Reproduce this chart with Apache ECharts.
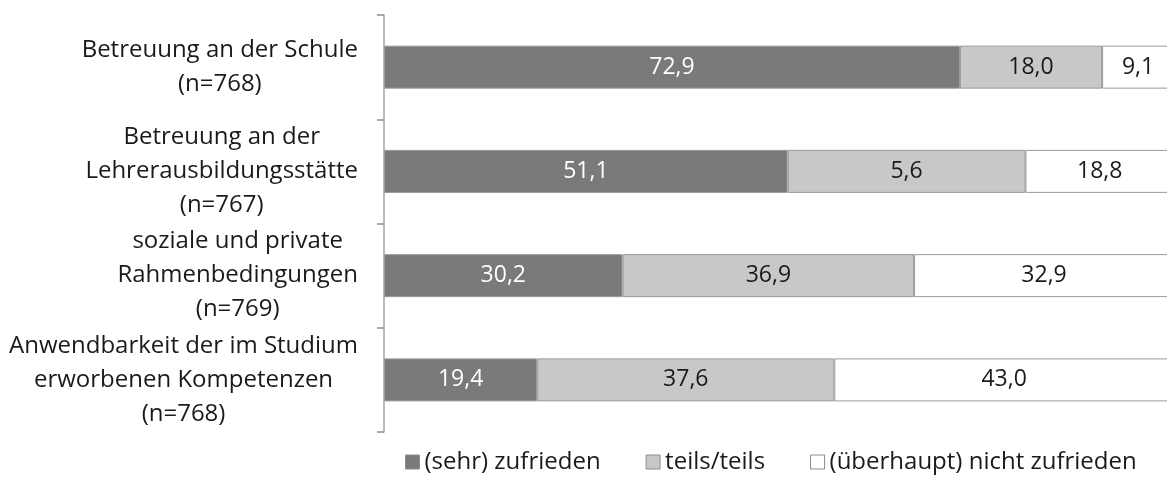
<!DOCTYPE html>
<html><head><meta charset="utf-8">
<script src="https://cdn.jsdelivr.net/npm/echarts@6/dist/echarts.min.js"></script>
<style>html,body{margin:0;padding:0;background:#fff;overflow:hidden}#c{width:1175px;height:489px}</style>
</head><body><div id="c"></div>
<script>
const categories = [
  "Betreuung an der Schule\n(n=768)",
  "Betreuung an der\nLehrerausbildungsstätte\n(n=767)",
  "soziale und private\nRahmenbedingungen\n(n=769)",
  "Anwendbarkeit der im Studium\nerworbenen Kompetenzen\n(n=768)"
];
const seriesNames = ["(sehr) zufrieden", "teils/teils", "(überhaupt) nicht zufrieden"];
const zufrieden = [72.9, 51.1, 30.2, 19.4];
const teils = [18.0, 30.1, 36.9, 37.6];
const nicht = [9.1, 18.8, 32.9, 43.0];
// labels as printed in the original chart
const zufriedenLabels = [72.9, 51.1, 30.2, 19.4];
const teilsLabels = [18.0, 5.6, 36.9, 37.6];
const nichtLabels = [9.1, 18.8, 32.9, 43.0];

const FONT = "Open Sans";
const fmt = v => v.toFixed(1).replace('.', ',');
const colors = ["#7a7a7a", "#c8c8c8", "#ffffff"];
const valueArrays = [zufrieden, teils, nicht];
const labelArrays = [zufriedenLabels, teilsLabels, nichtLabels];
const labelColors = ["#ffffff", "#1a1a1a", "#1a1a1a"];

const chart = echarts.init(document.getElementById('c'), null, {renderer: 'canvas'});
chart.setOption({
  animation: false,
  textStyle: {fontFamily: FONT},
  grid: {left: 384, right: 1, top: 15, bottom: 57, containLabel: false},
  legend: {
    bottom: 10, left: 400,
    itemWidth: 14, itemHeight: 14, itemGap: 45,
    textStyle: {fontFamily: FONT, fontSize: 24, color: '#1a1a1a'},
    data: seriesNames.map((n, i) => ({name: n, icon: 'rect',
      itemStyle: {color: colors[i], borderColor: '#8c8c8c', borderWidth: 1}}))
  },
  xAxis: {type: 'value', min: 0, max: 100, show: false},
  yAxis: {
    type: 'category', inverse: true, data: categories,
    axisLine: {lineStyle: {color: '#a6a6a6', width: 1.5}},
    axisTick: {show: true, length: 7, lineStyle: {color: '#8c8c8c', width: 1.5}},
    axisLabel: {
      margin: 26, fontFamily: FONT, fontSize: 24, color: '#1a1a1a', lineHeight: 34,
      formatter: v => v.split('\n').map(l => '{c|' + l + '}').join('\n'),
      rich: {c: {align: 'center', fontFamily: FONT, fontSize: 24, color: '#1a1a1a', lineHeight: 34}}
    }
  },
  series: seriesNames.map((n, i) => ({
    name: n, type: 'bar', stack: 'total', barWidth: 43,
    itemStyle: {color: colors[i], borderColor: '#9a9a9a', borderWidth: 1},
    label: {
      show: true, position: 'inside', fontFamily: FONT, fontSize: 23, color: labelColors[i],
      formatter: p => fmt(labelArrays[i][p.dataIndex])
    },
    data: valueArrays[i]
  }))
});
</script></body></html>
